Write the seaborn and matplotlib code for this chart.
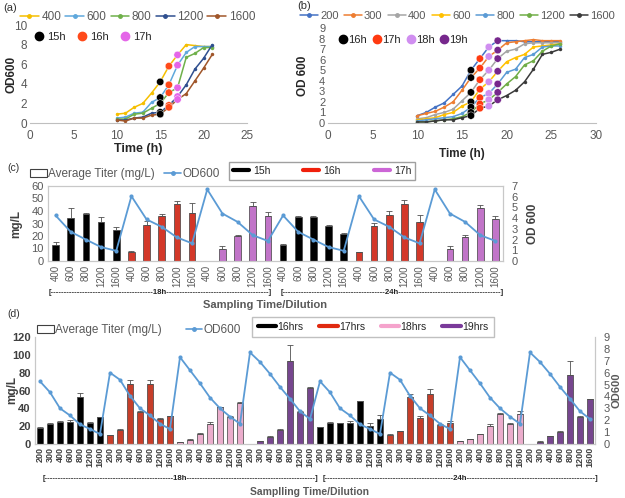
import matplotlib
matplotlib.use("Agg")
import matplotlib.pyplot as plt
import matplotlib.lines as mlines
import matplotlib.patches as mpatches
import pandas as pd
import seaborn as sns

# ---------------- data: panel (a) ----------------
time_a = [10, 11, 12, 13, 14, 15, 16, 17, 18, 19, 20, 21]
od_a_400 = [0.9, 1.0, 1.6, 2.0, 3.05, 4.2, 5.8, 6.95, 8.0, 7.9, 7.8, 7.8]
od_a_600 = [0.5, 0.6, 1.0, 1.1, 2.1, 2.6, 3.9, 5.9, 7.2, 7.8, 7.8, 7.8]
od_a_800 = [0.4, 0.4, 0.9, 1.0, 1.5, 2.0, 3.1, 3.6, 6.7, 7.1, 7.7, 7.7]
od_a_1200 = [0.3, 0.3, 0.5, 0.6, 1.0, 1.1, 1.8, 2.7, 3.9, 5.5, 6.6, 8.0]
od_a_1600 = [0.3, 0.2, 0.5, 0.5, 0.8, 0.9, 1.6, 2.4, 3.0, 4.3, 5.6, 7.0]
dil_a = ["400", "600", "800", "1200", "1600"]
sample_a = ["15h", "16h", "17h"]
sample_a_time = [15, 16, 17]

# ---------------- data: panel (b) ----------------
time_b = list(range(10, 27))
od_b_200 = [0.7, 1.0, 1.5, 1.9, 2.7, 3.5, 5.0, 6.1, 7.2, 7.8, 7.8, 7.8, 7.7, 7.7, 7.7, 7.7, 7.7]
od_b_300 = [0.7, 0.9, 1.1, 1.5, 2.0, 3.1, 4.3, 5.2, 6.3, 6.9, 7.6, 7.7, 7.8, 7.9, 7.8, 7.8, 7.8]
od_b_400 = [0.4, 0.5, 0.8, 1.0, 1.3, 2.1, 2.9, 4.1, 5.0, 6.1, 6.8, 7.0, 7.5, 7.6, 7.6, 7.6, 7.6]
od_b_600 = [0.3, 0.4, 0.5, 0.8, 1.0, 1.6, 2.0, 3.2, 3.9, 4.9, 5.8, 6.2, 6.5, 7.2, 7.3, 7.4, 7.5]
od_b_800 = [0.2, 0.3, 0.4, 0.5, 0.6, 0.9, 1.5, 2.4, 2.8, 3.7, 4.8, 5.1, 6.2, 6.5, 7.2, 7.3, 7.3]
od_b_1200 = [0.1, 0.1, 0.2, 0.3, 0.4, 0.6, 1.0, 1.8, 2.2, 2.9, 3.7, 4.4, 5.5, 5.9, 6.8, 7.3, 7.5]
od_b_1600 = [0.1, 0.1, 0.2, 0.3, 0.3, 0.5, 0.7, 1.4, 1.6, 2.2, 2.6, 3.1, 3.9, 5.1, 6.5, 6.7, 7.0]
dil_b = ["200", "300", "400", "600", "800", "1200", "1600"]
sample_b = ["16h", "17h", "18h", "19h"]
sample_b_time = [16, 17, 18, 19]

# ---------------- data: panel (c) ----------------
dil_c = ["400", "600", "800", "1200", "1600"]
grp_c = ["15h", "16h", "17h"]
titer_c_18h = [[12.8, 34.7, 37.6, 31.5, 24.8],
               [7.0, 29.0, 36.0, 45.6, 38.0],
               [0.0, 9.3, 20.0, 44.0, 36.0]]
err_c_18h = [[2.5, 7.5, 0.5, 3.5, 2.5],
             [1.0, 3.0, 1.5, 2.0, 8.0],
             [0.0, 2.7, 1.0, 3.0, 3.0]]
titer_c_24h = [[12.8, 35.5, 35.5, 28.0, 21.6],
               [7.0, 28.0, 36.8, 45.6, 31.5],
               [0.0, 9.6, 19.5, 42.7, 33.6]]
err_c_24h = [[0.5, 0.5, 0.5, 0.5, 0.5],
             [0.5, 2.0, 3.0, 3.5, 5.5],
             [0.0, 2.7, 1.0, 2.3, 2.4]]
od_c = [[4.25, 2.72, 2.0, 1.3, 0.95],
        [6.05, 3.88, 3.19, 2.2, 1.65],
        [6.68, 4.43, 3.65, 2.41, 1.87]]

# ---------------- data: panel (d) ----------------
dil_d = ["200", "300", "400", "600", "800", "1200", "1600"]
grp_d = ["16hrs", "17hrs", "18hrs", "19hrs"]
titer_d_18h = [[18, 22, 25, 25, 53, 23, 30],
               [10, 16, 67, 36, 67, 28, 31],
               [2, 5, 11, 22, 41, 30, 46],
               [0.5, 3, 8, 16, 93, 36, 63]]
err_d_18h = [[1, 2, 1, 2, 4, 1.5, 0.5],
             [0.5, 0.5, 5, 1, 5, 1, 0.5],
             [0.3, 0.5, 1, 3, 1, 1, 1],
             [0, 0.5, 0.5, 0.5, 18, 1, 1]]
titer_d_24h = [[18.7, 23.5, 23.5, 24, 48, 20, 28],
               [10.5, 14.6, 53, 29, 56, 21, 24],
               [3, 5.6, 11, 20.5, 34, 22.5, 34],
               [0.5, 2.6, 8.6, 14, 77, 30, 50]]
err_d_24h = [[0.5, 1.5, 0.5, 2, 0.5, 3, 5],
             [0.5, 0.5, 3, 2, 6, 1, 2],
             [0.3, 0.3, 0.5, 1.5, 0.5, 0.5, 3],
             [0, 0.3, 0.5, 0.5, 16, 1, 0.5]]
od_d = [[5.27, 4.35, 3.0, 2.4, 1.65, 1.26, 0.84],
        [6.0, 5.4, 4.05, 3.0, 2.4, 1.7, 1.26],
        [7.3, 6.2, 5.1, 3.9, 3.0, 2.3, 1.7],
        [7.7, 6.9, 5.9, 4.8, 3.8, 2.75, 2.1]]

W, H = 625, 498
GRAY = "#595959"

sns.set_style("white")
plt.rcParams["font.family"] = ["Liberation Sans", "DejaVu Sans"]

fig = plt.figure(figsize=(W / 100, H / 100), dpi=100)


def rect(l, t, r, b):
    return [l / W, 1 - b / H, (r - l) / W, (b - t) / H]


def style_curve_axes(ax):
    for s in ["top", "right", "left"]:
        ax.spines[s].set_visible(False)
    ax.spines["bottom"].set_color("#bfbfbf")
    ax.tick_params(axis="both", labelsize=8.5, colors=GRAY, length=0, pad=2)
    ax.tick_params(axis="x", length=3, color="#bfbfbf", direction="out")


def curve_panel(ax, times, series, dils, palette, sample_lbl, sample_t, sample_col):
    rows = []
    for d, vals in zip(dils, series):
        for t, v in zip(times, vals):
            rows.append({"time": t, "od": v, "dil": d})
    df = pd.DataFrame(rows)
    sns.lineplot(data=df, x="time", y="od", hue="dil", hue_order=dils, palette=palette,
                 marker="o", markersize=2.5, markeredgewidth=0, linewidth=1.1,
                 estimator=None, ax=ax, legend=False)
    dots = df[df["time"].isin(sample_t)].copy()
    dots["sample"] = dots["time"].map(dict(zip(sample_t, sample_lbl)))
    sns.scatterplot(data=dots, x="time", y="od", hue="sample", hue_order=sample_lbl,
                    palette=dict(zip(sample_lbl, sample_col)), s=28, linewidth=0.3,
                    edgecolor="white", ax=ax, legend=False, zorder=5)
    return df


# ---------------- panel (a) ----------------
ax_a = fig.add_axes(rect(30, 25, 247, 123))
pal_a = dict(zip(dil_a, ["#f5bf00", "#5fa8dc", "#6fb04a", "#2f4f8f", "#a0562a"]))
col_a = ["#000000", "#ff4a1a", "#e466e8"]
curve_panel(ax_a, time_a, [od_a_400, od_a_600, od_a_800, od_a_1200, od_a_1600],
            dil_a, pal_a, sample_a, sample_a_time, col_a)
ax_a.set_xlim(0, 25)
ax_a.set_ylim(0, 10)
ax_a.set_xticks(range(0, 26, 5))
ax_a.set_yticks(range(0, 11, 2))
style_curve_axes(ax_a)
ax_a.set_xlabel("Time (h)", fontsize=9, fontweight="bold", labelpad=1)
ax_a.set_ylabel("OD600", fontsize=8.5, fontweight="bold")
ax_a.yaxis.set_label_coords(-0.056, 0.5)
h_a = [mlines.Line2D([], [], color=pal_a[d], marker="o", markersize=2.5, lw=1.1) for d in dil_a]
fig.legend(h_a, dil_a, loc="center left", bbox_to_anchor=(20 / W, 1 - 17 / H), ncol=5,
           frameon=False, fontsize=8.5, handlelength=1.6, handletextpad=0.2,
           columnspacing=0.35, labelcolor=GRAY, borderaxespad=0, borderpad=0)
h_a2 = [mlines.Line2D([], [], color=c, marker="o", markersize=6, lw=0) for c in col_a]
ax_a.legend(h_a2, sample_a, loc="upper left", bbox_to_anchor=(-0.01, 1.0), ncol=3,
            frameon=False, fontsize=8, handlelength=0.8, handletextpad=0.3,
            columnspacing=1.1, borderaxespad=0.2)
fig.text(3 / W, 1 - 8 / H, "(a)", fontsize=8, color="#333333", va="center")

# ---------------- panel (b) ----------------
ax_b = fig.add_axes(rect(328, 28, 596, 123))
pal_b = dict(zip(dil_b, ["#4472c4", "#ed7d31", "#a5a5a5", "#ffc000", "#5b9bd5",
                         "#70ad47", "#3a3a3a"]))
col_b = ["#000000", "#ff3a10", "#d08ef0", "#76278c"]
curve_panel(ax_b, time_b, [od_b_200, od_b_300, od_b_400, od_b_600, od_b_800,
                           od_b_1200, od_b_1600],
            dil_b, pal_b, sample_b, sample_b_time, col_b)
ax_b.set_xlim(0, 30)
ax_b.set_ylim(0, 9)
ax_b.set_xticks(range(0, 31, 5))
ax_b.set_yticks(range(0, 10))
style_curve_axes(ax_b)
ax_b.tick_params(axis="y", labelsize=8)
ax_b.set_xlabel("Time (h)", fontsize=8.5, fontweight="bold", labelpad=4)
ax_b.set_ylabel("OD 600", fontsize=8.5, fontweight="bold")
ax_b.yaxis.set_label_coords(-0.07, 0.5)
h_b = [mlines.Line2D([], [], color=pal_b[d], marker="o", markersize=2.5, lw=1.1) for d in dil_b]
fig.legend(h_b, dil_b, loc="center left", bbox_to_anchor=(300 / W, 1 - 16 / H), ncol=7,
           frameon=False, fontsize=8, handlelength=1.6, handletextpad=0.2,
           columnspacing=0.5, labelcolor=GRAY, borderaxespad=0, borderpad=0)
h_b2 = [mlines.Line2D([], [], color=c, marker="o", markersize=6, lw=0) for c in col_b]
ax_b.legend(h_b2, sample_b, loc="upper left", bbox_to_anchor=(0.02, 1.0), ncol=4,
            frameon=False, fontsize=8, handlelength=0.6, handletextpad=0.15,
            columnspacing=0.6, borderaxespad=0.2)
fig.text(297 / W, 1 - 6 / H, "(b)", fontsize=8, color="#333333", va="center")


# ---------------- bar panels ----------------
def bar_panel(ax, halves, errs, od, dils, grps, colors, width):
    rows = []
    pos = 0
    for titer, err in zip(halves, errs):
        for gi, g in enumerate(grps):
            for di, d in enumerate(dils):
                rows.append({"pos": pos, "titer": titer[gi][di], "err": err[gi][di],
                             "grp": g, "od": od[gi][di], "dil": d})
                pos += 1
    df = pd.DataFrame(rows)
    sns.barplot(data=df, x="pos", y="titer", hue="grp", hue_order=grps,
                palette=dict(zip(grps, colors)), dodge=False, width=width,
                edgecolor="#404040", linewidth=0.5, legend=False, ax=ax)
    ax.errorbar(df["pos"], df["titer"], yerr=[[0] * len(df), df["err"]], fmt="none",
                ecolor="#505050", elinewidth=0.6, capsize=2, capthick=0.6, zorder=4)
    ax.set_xlim(-0.5, len(df) - 0.5)
    ax.set_xticks(range(len(df)))
    ax.set_xlabel("")
    ax2 = ax.twinx()
    sns.lineplot(data=df, x="pos", y="od", color="#5b9bd5", marker="o", markersize=3,
                 markeredgewidth=0, linewidth=1.3, estimator=None, ax=ax2)
    ax2.set_xlim(-0.5, len(df) - 0.5)
    return df, ax2


# ---------------- panel (c) ----------------
ax_c = fig.add_axes(rect(48, 186, 503, 261))
df_c, ax_c2 = bar_panel(ax_c, [titer_c_18h, titer_c_24h], [err_c_18h, err_c_24h], od_c,
                        dil_c, grp_c, ["#000000", "#f0200c", "#cc66d6"], 0.45)
ax_c.set_ylim(0, 60)
ax_c.set_yticks(range(0, 61, 10))
ax_c2.set_ylim(0, 7)
ax_c2.set_yticks(range(0, 8))
ax_c.set_xticklabels(df_c["dil"], rotation=90, fontsize=7, color=GRAY)
ax_c.tick_params(axis="y", labelsize=8, colors=GRAY, length=0, pad=3)
ax_c.tick_params(axis="x", length=0, pad=3)
ax_c2.tick_params(axis="y", labelsize=8, colors=GRAY, length=0, pad=6)
for a in (ax_c, ax_c2):
    for s in a.spines.values():
        s.set_color("#c8c8c8")
        s.set_linewidth(0.8)
ax_c.set_ylabel("mg/L", fontsize=8.5, fontweight="bold", color="#404040")
ax_c.yaxis.set_label_coords(-0.057, 0.5)
ax_c2.set_ylabel("OD 600", fontsize=8.5, fontweight="bold", color="#404040")
ax_c2.yaxis.set_label_coords(1.052, 0.5)
fig.text(7 / W, 1 - 168 / H, "(c)", fontsize=7.5, color="#333333", va="center")
dash = "-" * 39
fig.text(160 / W, 1 - 292 / H, "[" + dash + "18h" + dash + "]", fontsize=5.6,
         fontweight="bold", ha="center", va="center", color="#222222")
fig.text(392 / W, 1 - 292 / H, "[" + dash + "24h" + dash + "]", fontsize=5.6,
         fontweight="bold", ha="center", va="center", color="#222222")
fig.text(265 / W, 1 - 305 / H, "Sampling Time/Dilution", fontsize=8, fontweight="bold",
         ha="center", va="center", color=GRAY)
h_c = [mpatches.Patch(facecolor="white", edgecolor="#404040", lw=0.8),
       mlines.Line2D([], [], color="#5b9bd5", marker="o", markersize=2.5, lw=1.2)]
fig.legend(h_c, ["Average Titer (mg/L)", "OD600"], loc="center left",
           bbox_to_anchor=(30 / W, 1 - 174 / H), ncol=2, frameon=False, fontsize=8.5,
           handlelength=1.4, handleheight=0.6, handletextpad=0.15, columnspacing=0.8,
           labelcolor=GRAY, borderaxespad=0, borderpad=0)
h_c2 = [mlines.Line2D([], [], color=c, lw=3) for c in ["#000000", "#f0200c", "#cc66d6"]]
fig.legend(h_c2, grp_c, loc="center", bbox_to_anchor=(322 / W, 1 - 171 / H), ncol=3,
           frameon=True, fontsize=7.5, handlelength=1.5, handletextpad=0.4,
           columnspacing=3.2, fancybox=False, edgecolor="#a0a0a0", framealpha=1,
           borderpad=0.35)

# ---------------- panel (d) ----------------
ax_d = fig.add_axes(rect(35, 337, 595, 444))
df_d, ax_d2 = bar_panel(ax_d, [titer_d_18h, titer_d_24h], [err_d_18h, err_d_24h], od_d,
                        dil_d, grp_d, ["#000000", "#e02a10", "#f5a3cc", "#7a3a9a"], 0.55)
ax_d.set_ylim(0, 120)
ax_d.set_yticks(range(0, 121, 20))
ax_d2.set_ylim(0, 9)
ax_d2.set_yticks(range(0, 10))
ax_d.set_xticklabels(df_d["dil"], rotation=90, fontsize=6.5, fontweight="bold",
                     color="#404040")
ax_d.tick_params(axis="y", labelsize=8, colors="#404040", length=0, pad=3)
for lbl in ax_d.get_yticklabels():
    lbl.set_fontweight("bold")
ax_d.tick_params(axis="x", length=0, pad=2)
ax_d2.tick_params(axis="y", labelsize=8, colors=GRAY, length=0, pad=6)
for a in (ax_d, ax_d2):
    a.spines["top"].set_visible(False)
    for s in ["left", "right", "bottom"]:
        a.spines[s].set_color("#c8c8c8")
        a.spines[s].set_linewidth(0.8)
ax_d.set_ylabel("mg/L", fontsize=8.5, fontweight="bold", color="#404040")
ax_d.yaxis.set_label_coords(-0.03, 0.5)
ax_d2.set_ylabel("OD600", fontsize=8, fontweight="bold", color=GRAY)
ax_d2.yaxis.set_label_coords(1.03, 0.5)
fig.text(7 / W, 1 - 314 / H, "(d)", fontsize=7.5, color="#333333", va="center")
dash_d = "-" * 49
fig.text(180 / W, 1 - 478 / H, "[" + dash_d + "18h" + dash_d + "]", fontsize=5.6,
         fontweight="bold", ha="center", va="center", color="#222222")
fig.text(460 / W, 1 - 478 / H, "[" + dash_d + "24h" + dash_d + "]", fontsize=5.6,
         fontweight="bold", ha="center", va="center", color="#222222")
fig.text(310 / W, 1 - 492 / H, "Samplling Time/Dilution", fontsize=7.5, fontweight="bold",
         ha="center", va="center", color=GRAY)
h_d = [mpatches.Patch(facecolor="white", edgecolor="#404040", lw=0.8),
       mlines.Line2D([], [], color="#5b9bd5", marker="o", markersize=2.5, lw=1.2)]
fig.legend(h_d, ["Average Titer (mg/L)", "OD600"], loc="center left",
           bbox_to_anchor=(37 / W, 1 - 330 / H), ncol=2, frameon=False, fontsize=8.5,
           handlelength=1.4, handleheight=0.6, handletextpad=0.15, columnspacing=2.0,
           labelcolor=GRAY, borderaxespad=0, borderpad=0)
h_d2 = [mlines.Line2D([], [], color=c, lw=3) for c in ["#000000", "#e02a10", "#f5a3cc", "#7a3a9a"]]
fig.legend(h_d2, grp_d, loc="center", bbox_to_anchor=(373 / W, 1 - 327 / H), ncol=4,
           frameon=True, fontsize=7.5, handlelength=1.8, handletextpad=0.1,
           columnspacing=1.5, fancybox=False, edgecolor="#c0c0c0", framealpha=1,
           borderpad=0.5)

fig.savefig("out.png", dpi=100)
